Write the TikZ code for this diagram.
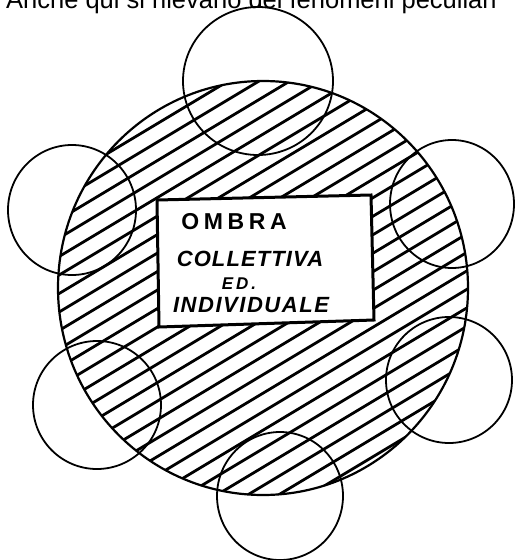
\documentclass[tikz,border=0pt]{standalone}
\usepackage{fontspec}
\setmainfont{Liberation Sans}
\begin{document}
\begin{tikzpicture}[x=1pt,y=-1pt,
  ring/.style={draw=black,line width=1.8pt},
  hatchline/.style={draw=black,line width=2.8pt},
  label/.style={inner sep=0pt}]
\useasboundingbox (0,0) rectangle (515,560);
\fill[white] (0,0) rectangle (515,560);
\clip (0,0) rectangle (515,560);
% title line, cut off at the top
\node[anchor=base west,inner sep=0pt,font=\fontsize{25.5}{28}\selectfont] (title) at (6,8) {Anche qui si rilevano dei fenomeni peculiari};
% hatching
\begin{scope}[even odd rule]
  \clip (263,288) ellipse [x radius=205, y radius=207]
     (157,200) -- (371,195) -- (374,320) -- (159,327) -- cycle;
  \foreach \c in {70,88.5,...,820} {
    \draw[hatchline] (40,\c-0.6*40) -- (490,\c-0.6*490);
  }
\end{scope}
% big disc outline
\draw[ring,line width=2.2pt] (263,288) ellipse [x radius=205, y radius=207];
% small circles
\draw[ring] (258,81) ellipse [x radius=75, y radius=74];
\draw[ring] (72,210) ellipse [x radius=64, y radius=65];
\draw[ring] (452,204) ellipse [x radius=62, y radius=64];
\draw[ring] (97,405) ellipse [x radius=64, y radius=64];
\draw[ring] (449,380) ellipse [x radius=63, y radius=63];
\draw[ring] (280,496) ellipse [x radius=63, y radius=64];
% label box
\draw[line width=3pt,fill=white] (157,200) -- (371,195) -- (374,320) -- (159,327) -- cycle;
\node[label,font=\fontsize{23}{24}\selectfont\bfseries\addfontfeatures{LetterSpace=20}] (l1) at (234,222) {OMBRA};
\node[label,font=\fontsize{22}{24}\selectfont\bfseries\itshape\addfontfeatures{LetterSpace=5}] (l2) at (250,259) {COLLETTIVA};
\node[label,font=\fontsize{17}{20}\selectfont\bfseries\itshape\addfontfeatures{LetterSpace=18}] (l3) at (239,284) {ED.};
\node[label,font=\fontsize{22}{24}\selectfont\bfseries\itshape\addfontfeatures{LetterSpace=7}] (l4) at (251,305) {INDIVIDUALE};
\end{tikzpicture}
\end{document}
